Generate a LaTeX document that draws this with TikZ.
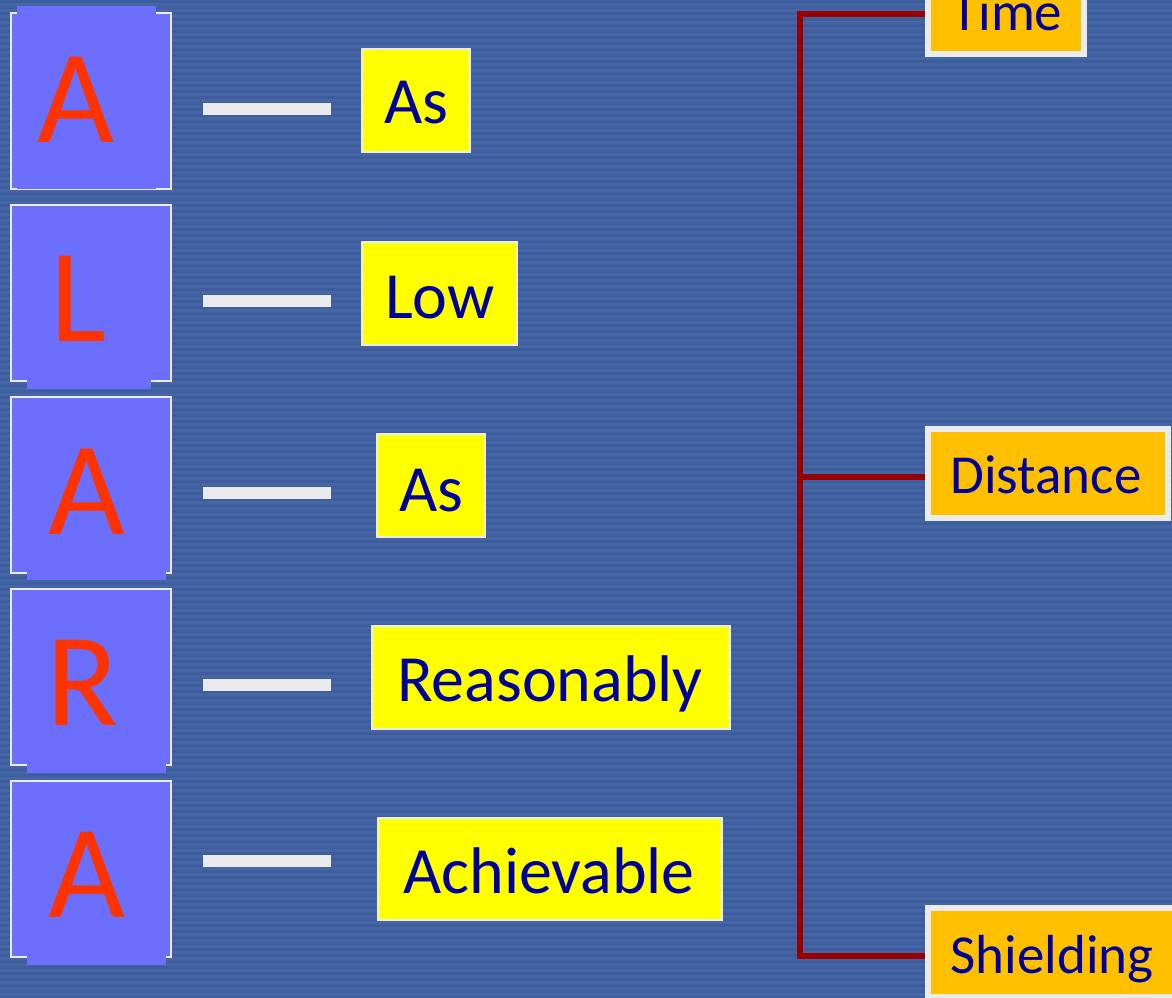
\documentclass[tikz,border=0pt]{standalone}
\usepackage{fontspec}
\setmainfont{Carlito}
\definecolor{bg}{HTML}{4565A5}
\definecolor{bgd}{HTML}{3E5D9C}
\definecolor{lbox}{HTML}{6B6FFB}
\definecolor{lred}{HTML}{FF3300}
\definecolor{wblue}{HTML}{000099}
\definecolor{wyel}{HTML}{FFFF00}
\definecolor{orng}{HTML}{FFC000}
\definecolor{edge}{HTML}{EBEBEB}
\definecolor{trunk}{HTML}{990000}
\begin{document}
\begin{tikzpicture}[x=1pt,y=-1pt,
 letter/.style={anchor=base,inner sep=0,text=lred,font=\fontsize{133}{133}\selectfont},
 word/.style={anchor=base,inner sep=0,text=wblue,font=\fontsize{66}{66}\selectfont},
 oword/.style={anchor=base,inner sep=0,text=wblue,font=\fontsize{55}{55}\selectfont},
 lframe/.style={draw=edge,line width=2,fill=lbox},
 ybox/.style={draw=edge,line width=2,fill=wyel},
 obox/.style={draw=edge,line width=6,fill=orng,inner sep=0,rectangle,minimum height=89},
 dashbar/.style={draw=edge,line width=12},
 branch/.style={draw=trunk,line width=6,line join=miter}]
\useasboundingbox (0,0) rectangle (1172,997);
\clip (0,0) rectangle (1172,997);
\fill[bg] (0,0) rectangle (1172,997);
\foreach \y in {0,6,...,996} \fill[bgd] (0,\y) rectangle (1172,\y+2.5);

% letter boxes
\draw[lframe] (11,13) rectangle (171,189);
\fill[lbox] (17,6) rectangle (156,189);
\draw[lframe] (11,205) rectangle (171,381);
\fill[lbox] (27,205.6) rectangle (151,389);
\draw[lframe] (11,397) rectangle (171,573);
\fill[lbox] (27,397.6) rectangle (166,580);
\draw[lframe] (11,589) rectangle (171,765);
\fill[lbox] (27,589.6) rectangle (166,773);
\draw[lframe] (11,781) rectangle (171,957);
\fill[lbox] (27,781.6) rectangle (166,965);

\node[letter] (l1) at (76,142) {A};
\node[letter] (l2) at (78,341) {L};
\node[letter] (l3) at (87,534) {A};
\node[letter] (l4) at (83,725) {R};
\node[letter] (l5) at (87,917) {A};

% dashes
\foreach \y in {109,301,493,685,861} \draw[dashbar] (203,\y) -- (331,\y);

% word boxes
\draw[ybox] (362,49) rectangle (470,152);
\draw[ybox] (362,242) rectangle (517,345);
\draw[ybox] (377,434) rectangle (485,537);
\draw[ybox] (372,626) rectangle (730,729);
\draw[ybox] (378,818) rectangle (722,920);

\node[word] (w1) at (416,123) {As};
\node[word] (w2) at (440,318) {Low};
\node[word] (w3) at (431,511) {As};
\node[word] (w4) at (550,701) {Reasonably};
\node[word] (w5) at (549,893) {Achievable};

% orange boxes
\node[obox,minimum width=156] (tbox) at (1006,9.5) {};
\node[obox,minimum width=240] (dbox) at (1048,473.5) {};
\node[obox,minimum width=252] (sbox) at (1054,952.5) {};
\node[oword] (ttext) at (1007,30) {Time};
\node[oword] (dtext) at (1046,493) {Distance};
\node[oword] (stext) at (1052,973) {Shielding};

% bracket
\coordinate (j1) at (800,14);
\coordinate (j2) at (800,476.5);
\coordinate (j3) at (800,956);
\draw[branch] (tbox.west |- j1) -- (j1) -- (j3) -- (sbox.west |- j3);
\draw[branch] (j2) -- (dbox.west |- j2);
\end{tikzpicture}
\end{document}
